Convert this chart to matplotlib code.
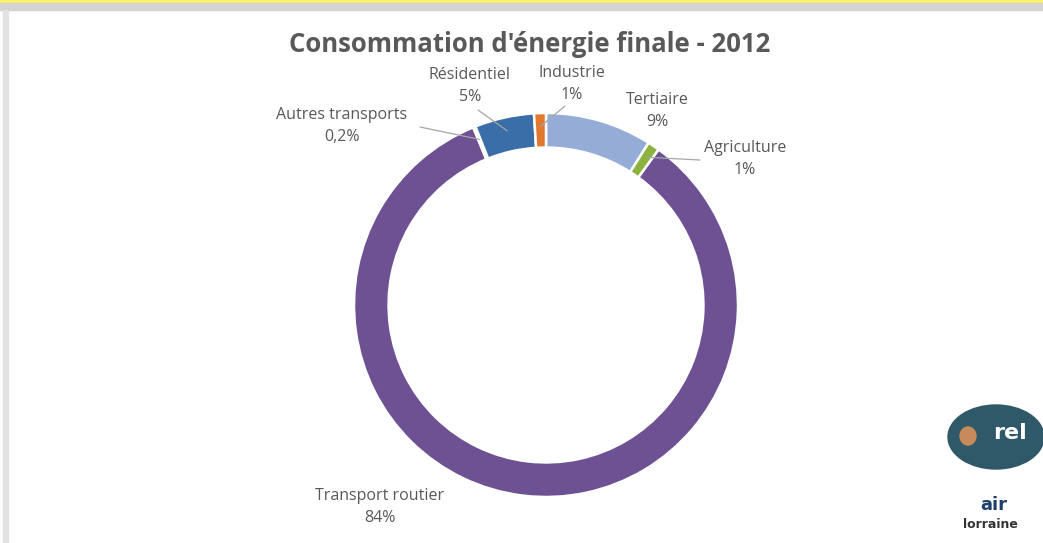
import numpy as np
import matplotlib
matplotlib.use("Agg")
import matplotlib.pyplot as plt
from matplotlib.patches import Rectangle, Ellipse

# data, clockwise from 12 o'clock
secteurs = ["Tertiaire", "Agriculture", "Transport routier",
            "Autres transports", "Résidentiel", "Industrie"]
parts = [9, 1, 84, 0.2, 5, 1]
etiquettes = ["9%", "1%", "84%", "0,2%", "5%", "1%"]
couleurs = ["#95ADD6", "#8DB33F", "#6E5193", "#EDEAF2", "#3A6EA8", "#E2782E"]

W, H = 1043, 543
fig = plt.figure(figsize=(W / 100, H / 100), dpi=100)
fig.patch.set_facecolor("white")

def px(x, y):
    return x / W, 1 - y / H

# slide frame: yellow band, grey bands, left shadow
fig.patches.append(Rectangle(px(0, 3), 1, 3 / H, transform=fig.transFigure,
                             color="#FFF066", zorder=0))
fig.patches.append(Rectangle(px(0, 10), 1, 7 / H, transform=fig.transFigure,
                             color="#D4D4D4", zorder=0))
fig.patches.append(Rectangle(px(3, 543), 5 / W, 533 / H, transform=fig.transFigure,
                             color="#E2E2E2", zorder=0))

# donut
cx, cy, r = 546, 305, 192
ax = fig.add_axes([(cx - r) / W, (H - cy - r) / H, 2 * r / W, 2 * r / H])
wedges, _ = ax.pie(parts, colors=couleurs, startangle=90, counterclock=False,
                   wedgeprops=dict(width=0.18, edgecolor="white", linewidth=1.8))
ax.set_xlim(-1, 1)
ax.set_ylim(-1, 1)
ax.set_aspect("equal", adjustable="box")
ax.axis("off")

fig.text(*px(530, 45), "Consommation d'énergie finale - 2012", ha="center", va="center",
         fontsize=18.5, fontweight="bold", color="#595959", family="Open Sans")

# label positions (pixels) and leader start points
pos = {
    "Tertiaire": (657, 100),
    "Agriculture": (745, 148),
    "Transport routier": (380, 496),
    "Autres transports": (342, 115),
    "Résidentiel": (470, 75),
    "Industrie": (572, 73),
}
leaders = {
    "Agriculture": (700, 160),
    "Autres transports": (420, 127),
    "Résidentiel": (478, 110),
    "Industrie": (565, 106),
}

for w, nom, lab in zip(wedges, secteurs, etiquettes):
    x, y = pos[nom]
    fig.text(*px(x, y), nom, ha="center", va="center", fontsize=11.5,
             color="#595959", family="Open Sans")
    fig.text(*px(x, y + 22), lab, ha="center", va="center", fontsize=11.5,
             color="#595959", family="Open Sans")
    if nom in leaders:
        a = np.deg2rad((w.theta1 + w.theta2) / 2)
        rr = 0.93
        tx, ty = px(*leaders[nom])
        ax.annotate("", xy=(rr * np.cos(a), rr * np.sin(a)), xycoords="data",
                    xytext=(tx, ty), textcoords="figure fraction",
                    arrowprops=dict(arrowstyle="-", color="#A6A6A6", lw=0.9,
                                    shrinkA=0, shrinkB=0))

# logos
fig.patches.append(Ellipse(px(996, 437), 96 / W, 64 / H, transform=fig.transFigure,
                           color="#2F5868", zorder=1))
fig.patches.append(Ellipse(px(968, 436), 16 / W, 18 / H, transform=fig.transFigure,
                           color="#C88A5A", zorder=2))
fig.text(*px(1010, 433), "rel", ha="center", va="center", fontsize=16,
         fontweight="bold", color="white", family="DejaVu Sans", zorder=3)
fig.text(*px(994, 505), "air", ha="center", va="center", fontsize=13,
         fontweight="bold", color="#1E3E6C", family="DejaVu Sans")
fig.text(*px(990, 524), "lorraine", ha="center", va="center", fontsize=9,
         fontweight="bold", color="#333333", family="DejaVu Sans")

fig.savefig("out.png", dpi=100, facecolor=fig.get_facecolor())
